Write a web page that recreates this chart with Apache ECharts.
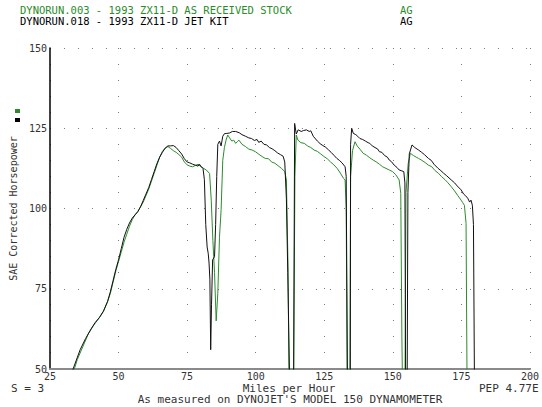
<!DOCTYPE html>
<html>
<head>
<meta charset="utf-8">
<script src="https://cdn.jsdelivr.net/npm/echarts@6/dist/echarts.min.js"></script>
<style>html,body{margin:0;padding:0;background:#fff;}#c{width:542px;height:407px;}</style>
</head>
<body>
<div id="c"></div>
<script>
// ---- data (mph, corrected hp) ----
var xTicks = [25, 50, 75, 100, 125, 150, 175, 200];
var yTicks = [50, 75, 100, 125, 150];
var stockName = 'DYNORUN.003 - 1993 ZX11-D AS RECEIVED STOCK';
var jetName = 'DYNORUN.018 - 1993 ZX11-D JET KIT';

var stock = [
[33.5,49],[35,53],[37,57],[39,61],[41,63.7],[43,66],[44.5,68],[46,71],[47,73.5],[48,77],[49,80.5],[50,83.5],[51,86.5],[52,89.5],[53,92],[54,94.5],[55,96.5],[56,98],[57,99],[58,100.5],[59,102],[60,104],[61,106],[62,108.5],[63,111],[64,113.5],[65,116],[66,117.8],[67,118.8],[68,119.3],[69,118.7],[70,118],[71,117.5],[72,116.8],[73,116],[74,114.5],[75,113.6],[76,113.2],[77,113],[78,113.4],[79,113.8],[80,113],[81,112.5],[82,112],[83.2,110.9],[83.8,102.6],[84.4,90],[85,80],[85.6,65],[86.2,73.6],[86.8,91],[87.4,99.6],[88,115],[88.6,119],[89.2,121.3],[89.8,122.9],[90.5,122],[91.3,121],[92,121.3],[92.7,120.3],[93.3,120.8],[93.9,121.3],[95,120],[96.3,119.3],[97.5,118.5],[98.7,118.2],[99.9,117.7],[101,117],[102.3,116.2],[103.5,115.6],[104.7,115.5],[105.8,114.5],[107,114.1],[108.2,113.3],[109.4,112.5],[110.6,111.5],[111.2,108.9],[111.8,81.8],[112.2,40],[113.8,40],[114.3,110],[114.8,122.9],[115.4,121.3],[116.5,120.5],[117.7,120.3],[118.9,119.5],[120.1,119],[121.3,118.2],[122.5,117.8],[123.7,117],[124.9,116.2],[126.1,115.5],[127.3,114.5],[128.5,113.6],[129.7,112.5],[130.9,111],[132,109.4],[132.6,108.9],[133,100],[133.4,40],[134.3,40],[134.6,110],[135.3,118],[136.2,120.8],[137,119.5],[138,118.5],[139.2,117.2],[140.4,116.6],[141.6,115.8],[142.8,115.1],[144,114.5],[145.1,113.8],[146.3,113],[147.5,112.5],[148.7,112],[149.9,111.5],[151.1,110.5],[152.3,108.9],[152.9,104.7],[153.3,60],[153.6,40],[154.4,40],[154.8,105],[155.6,114],[156.4,117.2],[157.5,116.5],[158.5,116],[159.4,115.6],[160.6,115],[161.8,114.3],[163,113.5],[164.2,113],[165.4,111.8],[166.6,111],[167.8,109.9],[169,109],[170.1,108],[171.3,106.8],[172.5,105.5],[173.7,104],[174.9,102.6],[175.5,101.8],[176.1,101],[176.7,95.4],[177.1,40]
];

var jet = [
[33,49],[34.5,52.5],[36,56],[38,59.5],[40,62.5],[41.5,64.5],[43,66],[44.5,68],[46,71],[47,74],[48,77.5],[49,81],[50,84],[51,87.5],[52,91],[53,93.5],[54,95.5],[55,97],[56,98],[57,99],[58,100.5],[59,102.5],[60,104.5],[61,106.5],[62,109],[63,111.5],[64,114],[65,116],[66,117.5],[67,118.8],[68,119.5],[69,119.5],[70,119.6],[71,119],[72,118],[73,117],[74,115.5],[75,114.5],[76,114.2],[77,113.8],[78,113.5],[79,113.2],[79.5,113.8],[80,113.2],[80.8,112.5],[81.3,109],[81.8,95],[82.3,88],[82.7,86],[83,83],[83.3,78],[83.6,56],[83.9,70],[84.3,84],[85,85],[85.4,95],[85.8,110],[86.2,120],[86.8,121],[87.4,119.5],[88,122.5],[88.6,123.3],[89.5,123.4],[90.4,123.5],[91.5,124],[92.7,124],[94,123.6],[95,123],[96.3,122.5],[97.5,122],[98.5,121.8],[99.5,121.2],[100.5,121.5],[101.1,120.6],[102,121],[103,120],[104,119.8],[105,119],[106,118.6],[107,118],[108,117.3],[109,116.8],[110,116.3],[110.6,114.5],[111.2,103],[111.7,80],[112.1,60],[112.5,40],[113.8,40],[114.2,126.5],[114.8,123.2],[115.5,124.5],[116.6,124],[117.5,124.3],[118.5,124.5],[119.5,124],[120.1,124.2],[121,122.5],[122.5,121],[123.5,120.2],[124.5,119.6],[125.5,119.1],[126.5,118.3],[127.5,117.5],[128.5,116.6],[129.6,115.6],[130.5,115],[131.5,114.2],[132.6,113],[133,110],[133.5,40],[134.5,40],[134.6,120],[135,125],[135.6,123.4],[136.5,123],[137.2,122.5],[138,121.8],[139,121.5],[140,121],[141,120.5],[141.6,120.3],[142.5,119.5],[143.5,119],[144.5,118.5],[145.1,117.7],[146,117.5],[147,116.5],[148,116],[148.7,115.1],[149.5,114.6],[150.5,113.5],[151.5,112.8],[152.3,112],[153,111.8],[154,111.5],[154.4,108],[154.7,40],[155.2,40],[155.5,105],[156,117],[157,119.8],[158,119],[159.4,118.2],[160.5,117.5],[161.5,116.8],[163,115.6],[164,115],[165,113.8],[166.5,112.5],[167.5,111.8],[168.5,111],[169.5,110.3],[171.3,108.9],[172.5,108],[173.5,107],[174.9,105.8],[175.8,104.5],[176.5,104],[177.3,103.2],[178,102],[178.5,102.6],[179,101],[179.4,95],[179.8,40]
];

var green = '#2a8c2a';
var mono = '"DejaVu Sans Mono", "Liberation Mono", monospace';
function txt(x, y, s, color, size, align, lh) {
  return {type: 'text', x: x, y: y, style: {text: s, fill: color, font: size + 'px ' + mono,
    align: align || 'left', verticalAlign: 'middle', lineHeight: lh || 9}};
}

var chart = echarts.init(document.getElementById('c'), null, {renderer: 'svg'});
chart.setOption({
  backgroundColor: '#ffffff',
  animation: false,
  grid: {left: 47, top: 48, right: 5, bottom: 38, containLabel: false},
  xAxis: {
    type: 'value', min: xTicks[0], max: xTicks[xTicks.length - 1], interval: 25,
    axisLine: {show: true, onZero: false, lineStyle: {color: '#8a8a8a', width: 2}},
    axisTick: {show: false},
    axisLabel: {margin: 3, color: '#333', fontSize: 10, lineHeight: 9, fontFamily: mono},
    splitLine: {show: true, lineStyle: {color: '#777', width: 1, type: [1, 15]}}
  },
  yAxis: {
    type: 'value', min: yTicks[0], max: yTicks[yTicks.length - 1], interval: 25,
    name: 'SAE Corrected Horsepower', nameLocation: 'middle', nameRotate: 90, nameGap: 30,
    nameTextStyle: {color: '#333', fontSize: 10, fontFamily: mono},
    axisLine: {show: true, lineStyle: {color: '#000', width: 1.5}},
    axisTick: {show: false},
    axisLabel: {margin: 3, color: '#333', fontSize: 10, fontFamily: mono},
    splitLine: {show: true, lineStyle: {color: '#777', width: 1, type: [1, 13]}}
  },
  series: [
    {name: stockName, type: 'line', data: stock, showSymbol: false, clip: true,
     lineStyle: {color: green, width: 1}, z: 2},
    {name: jetName, type: 'line', data: jet, showSymbol: false, clip: true,
     lineStyle: {color: '#111', width: 1}, z: 3}
  ],
  graphic: [
    txt(20, 10.3, stockName, green, 10.5),
    txt(400, 10.3, 'AG', green, 10.5),
    txt(20, 21.3, jetName, '#000', 10.5),
    txt(400, 21.3, 'AG', '#000', 10.5),
    {type: 'rect', shape: {x: 15, y: 109, width: 5, height: 4}, style: {fill: green}},
    {type: 'rect', shape: {x: 15, y: 118, width: 5, height: 4}, style: {fill: '#000'}},
    txt(11, 388, 'S = 3', '#333', 11),
    txt(289, 388, 'Miles per Hour', '#333', 11, 'center'),
    txt(479, 388, 'PEP 4.77E', '#333', 11),
    txt(290, 399.7, "As measured on DYNOJET'S MODEL 150 DYNAMOMETER", '#333', 11, 'center')
  ]
});
</script>
</body>
</html>
